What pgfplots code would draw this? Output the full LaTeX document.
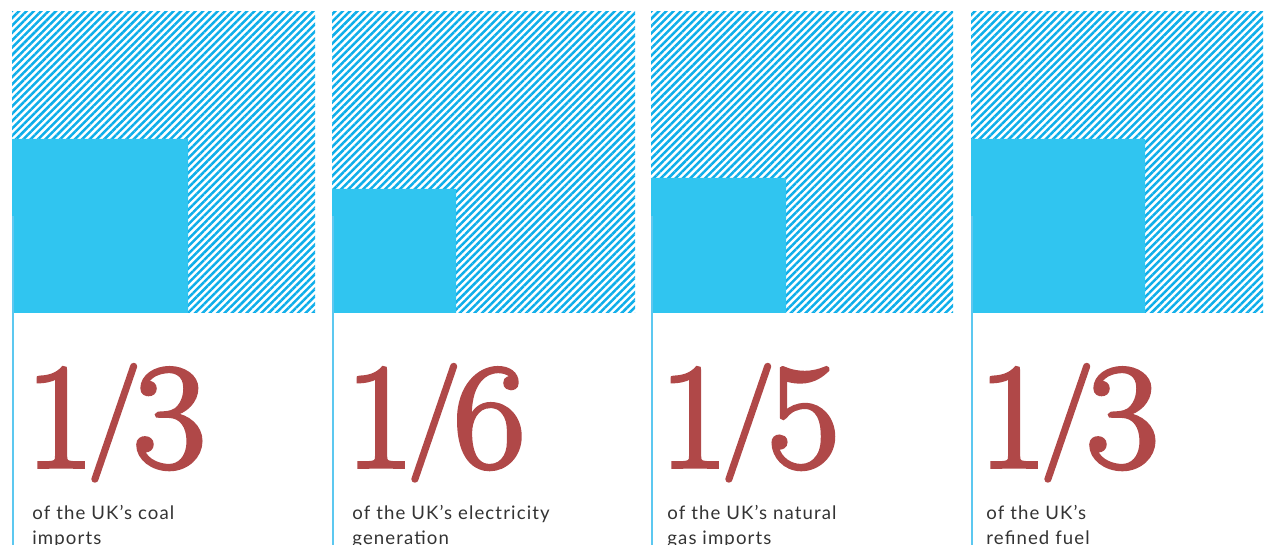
\documentclass[border=0pt]{standalone}
\usepackage{pgfplots}
\pgfplotsset{compat=1.18}
\usepackage{graphicx}
\usepackage{fontspec}
\usetikzlibrary{patterns.meta}
\newfontfamily\smallf[LetterSpace=6]{Lato}
\newfontfamily\fracf[FakeBold=2.5]{Latin Modern Roman}
\definecolor{hatch}{HTML}{0EAEEA}
\definecolor{solid}{HTML}{30C5F0}
\definecolor{vline}{HTML}{5CC8F0}
\definecolor{fracred}{HTML}{B04848}
\definecolor{txt}{HTML}{333333}
\newcommand\bigfrac[2]{\fracf\fontsize{75pt}{75pt}\selectfont #1\kern-0.045em\raisebox{0.1em}{\scalebox{0.78}{/}}\kern-0.055em\scalebox{1.06}[1]{#2}}
\tikzset{captxt/.style={anchor=base west, inner sep=0, text=txt, font=\smallf\fontsize{9.3pt}{12.5pt}\selectfont},
  hatchfill/.style={draw=none, pattern={Lines[angle=45, distance=2.6pt, line width=1.25pt]}, pattern color=hatch}}
\begin{document}
\begin{tikzpicture}
\path[use as bounding box, clip] (0,0) rectangle (632pt,272.5pt);
\begin{axis}[at={(0,0)}, anchor=south west, width=632pt, height=272.5pt, scale only axis,
  xmin=0, xmax=1264, ymin=0, ymax=545, y dir=reverse, axis lines=none, ticks=none]
% hatched squares (whole = 1)
\addplot[hatchfill] coordinates {(12,12) (315,12) (315,313) (12,313) (12,12)};
\addplot[hatchfill] coordinates {(332,12) (635,12) (635,313) (332,313) (332,12)};
\addplot[hatchfill] coordinates {(651,12) (953,12) (953,313) (651,313) (651,12)};
\addplot[hatchfill] coordinates {(971,12) (1263,12) (1263,313) (971,313) (971,12)};
% solid squares (fraction of area)
\addplot[draw=none, fill=solid] coordinates {(12,139) (188,139) (188,313) (12,313) (12,139)};
\addplot[draw=none, fill=solid] coordinates {(332,189) (456,189) (456,313) (332,313) (332,189)};
\addplot[draw=none, fill=solid] coordinates {(651,178) (786,178) (786,313) (651,313) (651,178)};
\addplot[draw=none, fill=solid] coordinates {(971,139) (1145,139) (1145,313) (971,313) (971,139)};
% vertical rules
\addplot[vline, line width=1pt] coordinates {(13,216) (13,545)};
\addplot[vline, line width=1pt] coordinates {(333,216) (333,545)};
\addplot[vline, line width=1pt] coordinates {(652,216) (652,545)};
\addplot[vline, line width=1pt] coordinates {(971.5,216) (971.5,545)};
% big fractions
\node[anchor=base west, inner sep=0, text=fracred] at (axis cs:25,467) {\bigfrac{1}{3}};
\node[anchor=base west, inner sep=0, text=fracred] at (axis cs:345,467) {\bigfrac{1}{6}};
\node[anchor=base west, inner sep=0, text=fracred] at (axis cs:659,467) {\bigfrac{1}{5}};
\node[anchor=base west, inner sep=0, text=fracred] at (axis cs:978,467) {\bigfrac{1}{3}};
% captions
\node[captxt] at (axis cs:32,519) {of the UK’s coal};
\node[captxt] at (axis cs:32,544) {imports};
\node[captxt] at (axis cs:352,519) {of the UK’s electricity};
\node[captxt] at (axis cs:352,544) {generation};
\node[captxt] at (axis cs:667,519) {of the UK’s natural};
\node[captxt] at (axis cs:667,544) {gas imports};
\node[captxt] at (axis cs:986,519) {of the UK’s};
\node[captxt] at (axis cs:986,544) {refined fuel};
\end{axis}
\end{tikzpicture}
\end{document}
